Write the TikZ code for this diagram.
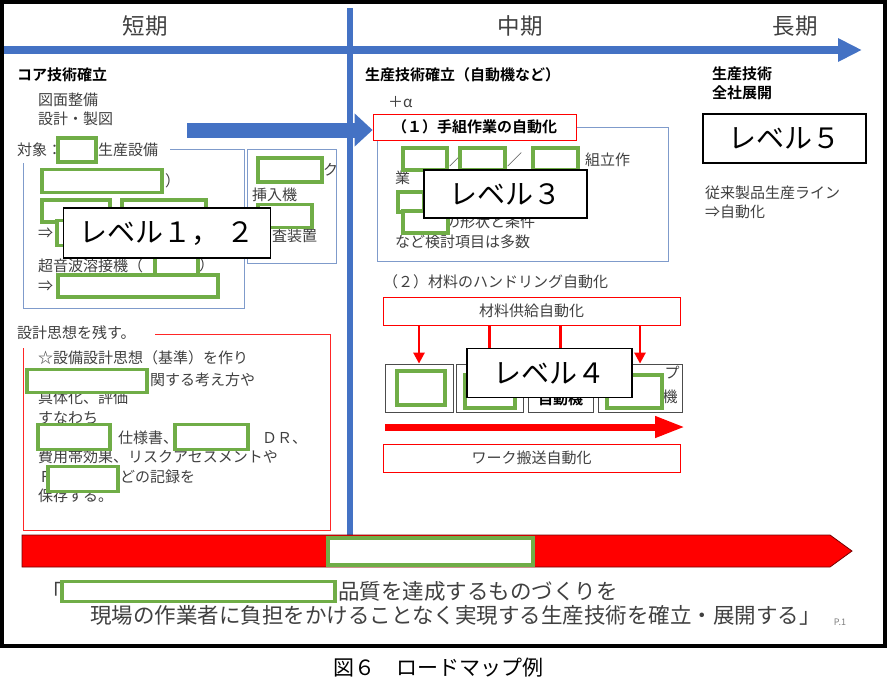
\documentclass[tikz,border=0pt]{standalone}
\usepackage{fontspec}
\setmainfont{Noto Sans CJK JP}[BoldFont={Noto Sans CJK JP Bold}]
\usepackage{tikz}
\usetikzlibrary{arrows.meta}
\usetikzlibrary{positioning}
\definecolor{tlblue}{HTML}{4472C4}
\definecolor{frblue}{HTML}{7F9BCB}
\definecolor{mkgreen}{HTML}{70AD47}
\definecolor{txtgray}{HTML}{404040}

\begin{document}
\begin{tikzpicture}[x=1pt,y=-1pt,
  txt/.style={anchor=west,inner sep=0pt,text=txtgray,font=\fontsize{15}{18}\selectfont},
  bold txt/.style={txt,text=black,font=\fontsize{15}{18}\selectfont\bfseries},
  head/.style={inner sep=0pt,text=txtgray,font=\fontsize{22.5}{26}\selectfont},
  quote/.style={anchor=west,inner sep=0pt,text=txtgray,font=\fontsize{21.5}{24}\selectfont},
  green box/.style={draw=mkgreen,line width=3.5pt,fill=white,inner sep=0pt},
  level box/.style={draw=black,line width=1.8pt,fill=white,inner sep=0pt,
                    font=\fontsize{28}{32}\selectfont},
  red box/.style={draw=red,line width=0.8pt,fill=white,inner sep=0pt,text=txtgray,
                  font=\fontsize{15}{18}\selectfont},
  machine/.style={draw=black!70,line width=0.8pt,minimum height=48pt,inner sep=0pt},
  thin blue/.style={draw=frblue,line width=0.8pt},
  thin red/.style={draw=red!85,line width=0.8pt},
  feed/.style={draw=red,line width=2.6pt,-{Triangle[length=11pt,width=11pt]}}]

  \useasboundingbox (0,0) rectangle (888,699);
  \fill[white] (0,0) rectangle (888,699);
  \draw[line width=4.5pt] (2,2) rectangle (885,646);

  % time axis
  \node[head] (short) at (145,26) {短期};
  \node[head] (mid) at (520,26) {中期};
  \node[head] (long) at (795,26) {長期};
  \coordinate (tl-s) at (4,50);
  \coordinate (tl-e) at (862,50);
  \coordinate (v-top) at (350,8);
  \coordinate (v-bot) at (350,535);
  \draw[tlblue,line width=6pt] (v-top) -- (v-bot);
  \draw[tlblue,line width=8pt,-{Triangle[length=24pt,width=22pt]}] (tl-s) -- (tl-e);

  % short term
  \node[bold txt] (core) at (17,75) {コア技術確立};
  \node[txt] (drw) at (38,100) {図面整備};
  \node[txt] (dsg) at (38,119) {設計・製図};
  \node[txt] (tgt) at (17,150) {対象：};
  \node[txt] (tgt2) at (98,150) {生産設備};
  \draw[thin blue] (170,149) -| (244,308) -| (23,163);
  \draw[thin blue] (247,149) rectangle (336,263);

  \node[txt] (p1) at (165,181) {）};
  \node[txt] (p2) at (110,211) {（};
  \node[txt] (ar1) at (38,233) {⇒};
  \node[txt] (weld) at (38,266) {超音波溶接機（};
  \node[txt] (p3) at (199,265) {）};
  \node[txt] (ar2) at (38,286) {⇒};
  \node[txt] (ku) at (323,170) {ク};
  \node[txt] (ins) at (252,195) {挿入機};
  \node[txt] (insp) at (272,236) {査装置};

  \node[green box,minimum width=38pt,minimum height=24pt] (g-tgt) at (77,150) {};
  \node[green box,minimum width=120pt,minimum height=23pt] (g-l1) at (102,181) {};
  \node[green box,minimum width=68pt,minimum height=22pt] (g-l2a) at (76,211) {};
  \node[green box,minimum width=84pt,minimum height=22pt] (g-l2b) at (164,211) {};
  \node[green box,minimum width=22pt,minimum height=25pt] (g-l3) at (68,233) {};
  \node[green box,minimum width=43pt,minimum height=24pt] (g-l4) at (176.5,267) {};
  \node[green box,minimum width=160pt,minimum height=22pt] (g-l5) at (138,286) {};
  \node[green box,minimum width=64pt,minimum height=24pt] (g-r1) at (290,170) {};
  \node[green box,minimum width=54pt,minimum height=23pt] (g-r2) at (285,216) {};

  \node[txt] (keep) at (17,333) {設計思想を残す。};
  \draw[thin red] (155,334) -| (330,530) -| (23,348);
  \node[txt] (k1) at (38,358) {☆設備設計思想（基準）を作り};
  \node[txt] (k2) at (150,380) {関する考え方や};
  \node[txt] (k3) at (38,398) {具体化、評価};
  \node[txt] (k4) at (38,418) {すなわち};
  \node[txt] (k5a) at (118,438) {仕様書、};
  \node[txt] (k5b) at (262,438) {ＤＲ、};
  \node[txt] (k6) at (38,457) {費用帯効果、リスクアセスメントや};
  \node[txt] (k7a) at (38,477) {Ｆ};
  \node[txt] (k7b) at (120,477) {どの記録を};
  \node[txt] (k8) at (38,496) {保存する。};
  \node[green box,minimum width=120pt,minimum height=23pt] (g-k2) at (87,381) {};
  \node[green box,minimum width=72pt,minimum height=25pt] (g-k5a) at (74,437) {};
  \node[green box,minimum width=73pt,minimum height=25pt] (g-k5b) at (211.5,437) {};
  \node[green box,minimum width=70pt,minimum height=25pt] (g-k7) at (83,479) {};

  % mid term
  \node[bold txt] (prod) at (365,75) {生産技術確立（自動機など）};
  \node[txt] (alpha) at (388,102) {＋α};
  \draw[thin blue] (377,127) rectangle (668,261);
  \node[red box,minimum width=203pt,minimum height=26pt,font=\fontsize{15}{18}\selectfont\bfseries,text=black]
    (hand) at (474.5,127) {（１）手組作業の自動化};
  \coordinate (fa-s) at (187,130);
  \draw[tlblue,line width=15pt,-{Triangle[length=18pt,width=32pt]}] (fa-s) -- (fa-s -| hand.west);

  \node[txt] (h1a) at (449,160) {／};
  \node[txt] (h1b) at (507,160) {／};
  \node[txt] (h1c) at (585,160) {組立作};
  \node[txt] (h2) at (395,178) {業};
  \node[txt] (h3) at (445,222) {の形状と条件};
  \node[txt] (h4) at (395,242) {など検討項目は多数};
  \node[green box,minimum width=44pt,minimum height=22pt] (g-h1) at (425,159) {};
  \node[green box,minimum width=45pt,minimum height=22pt] (g-h2) at (482.5,159) {};
  \node[green box,minimum width=45pt,minimum height=22pt] (g-h3) at (555.5,159) {};
  \node[green box,minimum width=26pt,minimum height=20pt] (g-h4) at (411,202) {};
  \node[green box,minimum width=45pt,minimum height=22pt] (g-h5) at (425.5,222) {};

  \node[txt] (mat) at (383,282) {（２）材料のハンドリング自動化};
  \node[red box,minimum width=297pt,minimum height=28pt] (supply) at (531.5,311) {材料供給自動化};
  \node[machine,minimum width=68pt] (m1) at (419,388) {};
  \node[machine,minimum width=67pt] (m2) at (489.5,388) {};
  \node[machine,minimum width=65pt] (m3) at (560.5,388) {};
  \node[machine,minimum width=84pt] (m4) at (640,388) {};
  \node[inner sep=0pt,font=\fontsize{15}{18}\selectfont\bfseries] (m3t) at (560.5,399) {自動機};
  \node[inner sep=0pt,text=txtgray,font=\fontsize{15}{18}\selectfont] (m4a) at (672,373) {プ};
  \node[inner sep=0pt,text=txtgray,font=\fontsize{15}{18}\selectfont] (m4b) at (670,397) {機};
  \foreach \m in {m1,m2,m3,m4}
    \draw[feed] (supply.south -| \m.north) -- (\m.north);
  \node[green box,minimum width=48pt,minimum height=34pt] (g-m1) at (421,388) {};
  \node[green box,minimum width=50pt,minimum height=33pt] (g-m2) at (490,391.5) {};
  \node[green box,minimum width=55pt,minimum height=33pt] (g-m4) at (634.5,391.5) {};
  \coordinate (ra-s) at (385,427);
  \coordinate (ra-e) at (685,427);
  \draw[red,line width=7pt,-{Triangle[length=30pt,width=20pt]}] (ra-s) -- (ra-e);
  \node[red box,minimum width=297pt,minimum height=28pt] (carry) at (531.5,458) {ワーク搬送自動化};

  % long term
  \node[bold txt] (lt1) at (712,74) {生産技術};
  \node[bold txt] (lt2) at (712,93) {全社展開};
  \node[txt] (lt3) at (705,193) {従来製品生産ライン};
  \node[txt] (lt4) at (705,212) {⇒自動化};

  % levels
  \node[level box,minimum width=207pt,minimum height=50pt] (lv12) at (167,233) {レベル１，\ ２};
  \node[level box,minimum width=163pt,minimum height=48pt] (lv3) at (505.5,194) {レベル３};
  \node[level box,minimum width=165pt,minimum height=49pt] (lv4) at (549.5,373) {レベル４};
  \node[level box,minimum width=163pt,minimum height=49pt] (lv5) at (784.5,138.5) {レベル５};

  % goal
  \filldraw[fill=red,draw=red!45!black,line width=0.8pt]
    (22,535) -- (830,535) -- (852,551) -- (830,567) -- (22,567) -- cycle;
  \node[green box,minimum width=205pt,minimum height=27pt] (g-goal) at (430.5,551.5) {};
  \node[quote] (q1a) at (41,591) {「};
  \node[quote] (q1b) at (338,591) {品質を達成するものづくりを};
  \node[quote] (q2) at (90,615) {現場の作業者に負担をかけることなく実現する生産技術を確立・展開する」};
  \node[green box,minimum width=273pt,minimum height=20pt] (g-q1) at (198.5,591.5) {};
  \node[inner sep=0pt,text=black!50,font=\fontsize{9}{10}\selectfont] (page) at (840,622) {P.1};

  \node[inner sep=0pt,font=\fontsize{21}{24}\selectfont] (cap) at (438,668) {図６　ロードマップ例};
\end{tikzpicture}
\end{document}
